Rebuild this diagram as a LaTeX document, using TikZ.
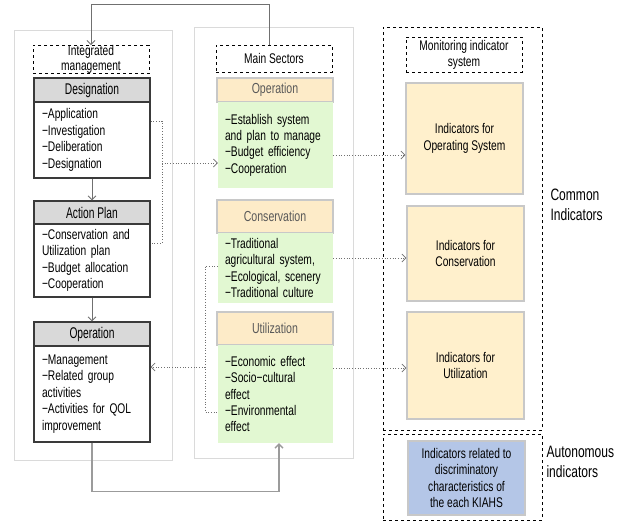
\documentclass[tikz,border=0pt]{standalone}
\usepackage{fontspec}
\setmainfont{Liberation Sans}[FakeStretch=0.73]
\newfontfamily\hdfont{Liberation Sans}[FakeStretch=0.66]
\usetikzlibrary{arrows.meta}
\AtBeginDocument{\hyphenpenalty=10000 \exhyphenpenalty=10000}
\definecolor{hdgray}{HTML}{D9D9D9}
\definecolor{bdark}{HTML}{3A3A3A}
\definecolor{orng}{HTML}{FDEBC8}
\definecolor{grn}{HTML}{E2F8D2}
\definecolor{ylw}{HTML}{FFF0CC}
\definecolor{blu}{HTML}{B4C6E7}
\definecolor{lgray}{HTML}{C8C8C8}
\definecolor{cgray}{HTML}{DADADA}
\definecolor{lngray}{HTML}{707070}
\definecolor{txgray}{HTML}{595959}
\tikzset{
  container/.style={draw=cgray, line width=0.9pt, inner sep=0pt},
  dashbox/.style={draw=black, dashed, line width=0.9pt, inner sep=0pt, align=center, font=\fontsize{14}{16}\selectfont},
  graybox/.style={draw=bdark, fill=hdgray, line width=1.1pt, inner sep=0pt, font=\hdfont\fontsize{15.5}{16}\selectfont},
  whitebody/.style={draw=bdark, fill=white, line width=1.1pt, inner xsep=8pt, inner ysep=0pt, align=left, font=\fontsize{14}{16.5}\selectfont},
  orngbox/.style={draw=lgray, fill=orng, line width=1.5pt, inner sep=0pt, text=txgray, font=\fontsize{14.5}{16}\selectfont},
  grnbody/.style={fill=grn, inner xsep=7pt, inner ysep=0pt, align=left, font=\fontsize{14}{16.3}\selectfont},
  indbox/.style={draw=lgray, fill=ylw, line width=1.2pt, inner sep=0pt, align=center, font=\fontsize{14}{16.5}\selectfont},
  blubox/.style={draw=lgray, fill=blu, line width=1.2pt, inner sep=0pt, align=center, font=\fontsize{14}{16.3}\selectfont},
  sideline/.style={align=left, anchor=west, font=\fontsize{16.5}{19.5}\selectfont},
  gl/.style={draw=lngray, line width=0.9pt},
  bl/.style={draw=lngray!70, line width=1.4pt},
  dl/.style={draw=lngray, line width=0.7pt, dotted},
  tip/.style={-{Straight Barb[length=4pt,width=8pt]}},
}
\begin{document}
\begin{tikzpicture}[x=1pt,y=-1pt]
\useasboundingbox (0,0) rectangle (626,520);
% containers
\node[container, minimum width=158pt, minimum height=430pt] (LC) at (93,245) {};
\node[container, minimum width=159pt, minimum height=431pt] (MC) at (273.5,242.5) {};
% left column
\node[dashbox, minimum width=116pt, minimum height=27pt] (IM) at (91,59.5) {Integrated\\[-1pt]management};
\node[graybox, minimum width=116pt, minimum height=24pt] (DH) at (92,90) {Designation};
\node[whitebody, text width=100pt, minimum height=76pt] (DB) at (92,140) {−Application\\−Investigation\\−Deliberation\\−Designation};
\node[graybox, minimum width=116pt, minimum height=23pt] (AH) at (92,212.5) {Action Plan};
\node[whitebody, text width=100pt, minimum height=73pt] (AB) at (92,260.5) {−Conservation and\\Utilization plan\\−Budget allocation\\−Cooperation};
\node[graybox, minimum width=116pt, minimum height=24pt] (OH) at (92,334) {Operation};
\node[whitebody, text width=100pt, minimum height=96pt] (OB) at (92,394) {−Management\\−Related group\\activities\\−Activities for QOL\\improvement};
% middle column
\node[dashbox, minimum width=116pt, minimum height=27pt] (MS) at (274,58.5) {Main Sectors};
\node[orngbox, minimum width=116pt, minimum height=24pt] (MH) at (275,90) {Operation};
\node[grnbody, text width=101pt, minimum height=86pt] (MB) at (275.5,145) {−Establish system\\and plan to manage\\−Budget efficiency\\−Cooperation};
\node[orngbox, minimum width=116pt, minimum height=33pt] (CH) at (275,216.5) {Conservation};
\node[grnbody, text width=101pt, minimum height=70pt] (CB) at (275.5,268) {−Traditional\\agricultural system,\\−Ecological, scenery\\−Traditional culture};
\node[orngbox, minimum width=116pt, minimum height=33pt] (UH) at (275,328.5) {Utilization};
\node[grnbody, text width=101pt, minimum height=98pt] (UB) at (275.5,394) {−Economic effect\\−Socio−cultural\\effect\\−Environmental\\effect};
% right column
\node[dashbox, minimum width=159pt, minimum height=403pt] (RC) at (462.5,228.5) {};
\node[dashbox, minimum width=116pt, minimum height=35pt] (MI) at (464,54.5) {Monitoring indicator\\system};
\node[indbox, minimum width=117pt, minimum height=111pt] (IOS) at (464.5,138.5) {Indicators for\\Operating System};
\node[indbox, minimum width=117pt, minimum height=95pt] (IC) at (465.5,253.5) {Indicators for\\Conservation};
\node[indbox, minimum width=117pt, minimum height=107pt] (IU) at (465.5,365.5) {Indicators for\\Utilization};
\node[dashbox, minimum width=159pt, minimum height=86pt] (AC) at (462.5,477) {};
\node[blubox, minimum width=117pt, minimum height=74pt] (BL) at (466.5,478) {Indicators related to\\discriminatory\\characteristics of\\the each KIAHS};
\node[sideline] (CI) at (547,205) {Common\\Indicators};
\node[sideline] (AI) at (543,462) {Autonomous\\indicators};
% solid connectors
\draw[gl,tip] ([xshift=-5pt]MS.north) -- ++(0,-40) -| (IM.north);
\draw[gl,tip] (DB.south) -- (AH.north);
\draw[gl,tip] (AB.south) -- (OH.north);
\draw[bl,tip] (OB.south) -- ++(0,49) -| ([xshift=3.5pt]UB.south);
% dotted connectors
\coordinate (j1) at (162,121);
\coordinate (j2) at (162,243);
\coordinate (j3) at (162,163);
\draw[dl] (DB.east |- j1) -- (j1) -- (j2) -- (AB.east |- j2);
\draw[dl,tip] (j3) -- (MB.west |- j3);
\coordinate (k1) at (205,266);
\coordinate (k2) at (205,412);
\coordinate (k3) at (205,367);
\draw[dl] (CB.west |- k1) -- (k1) -- (k2) -- (UB.west |- k2);
\draw[dl,tip] (k3) -- (OB.east |- k3);
\coordinate (r1) at (340,155);
\coordinate (r2) at (340,258);
\coordinate (r3) at (340,368);
\draw[dl,tip] (MB.east |- r1) -- (IOS.west |- r1);
\draw[dl,tip] (CB.east |- r2) -- (IC.west |- r2);
\draw[dl,tip] (UB.east |- r3) -- (IU.west |- r3);
\end{tikzpicture}
\end{document}
